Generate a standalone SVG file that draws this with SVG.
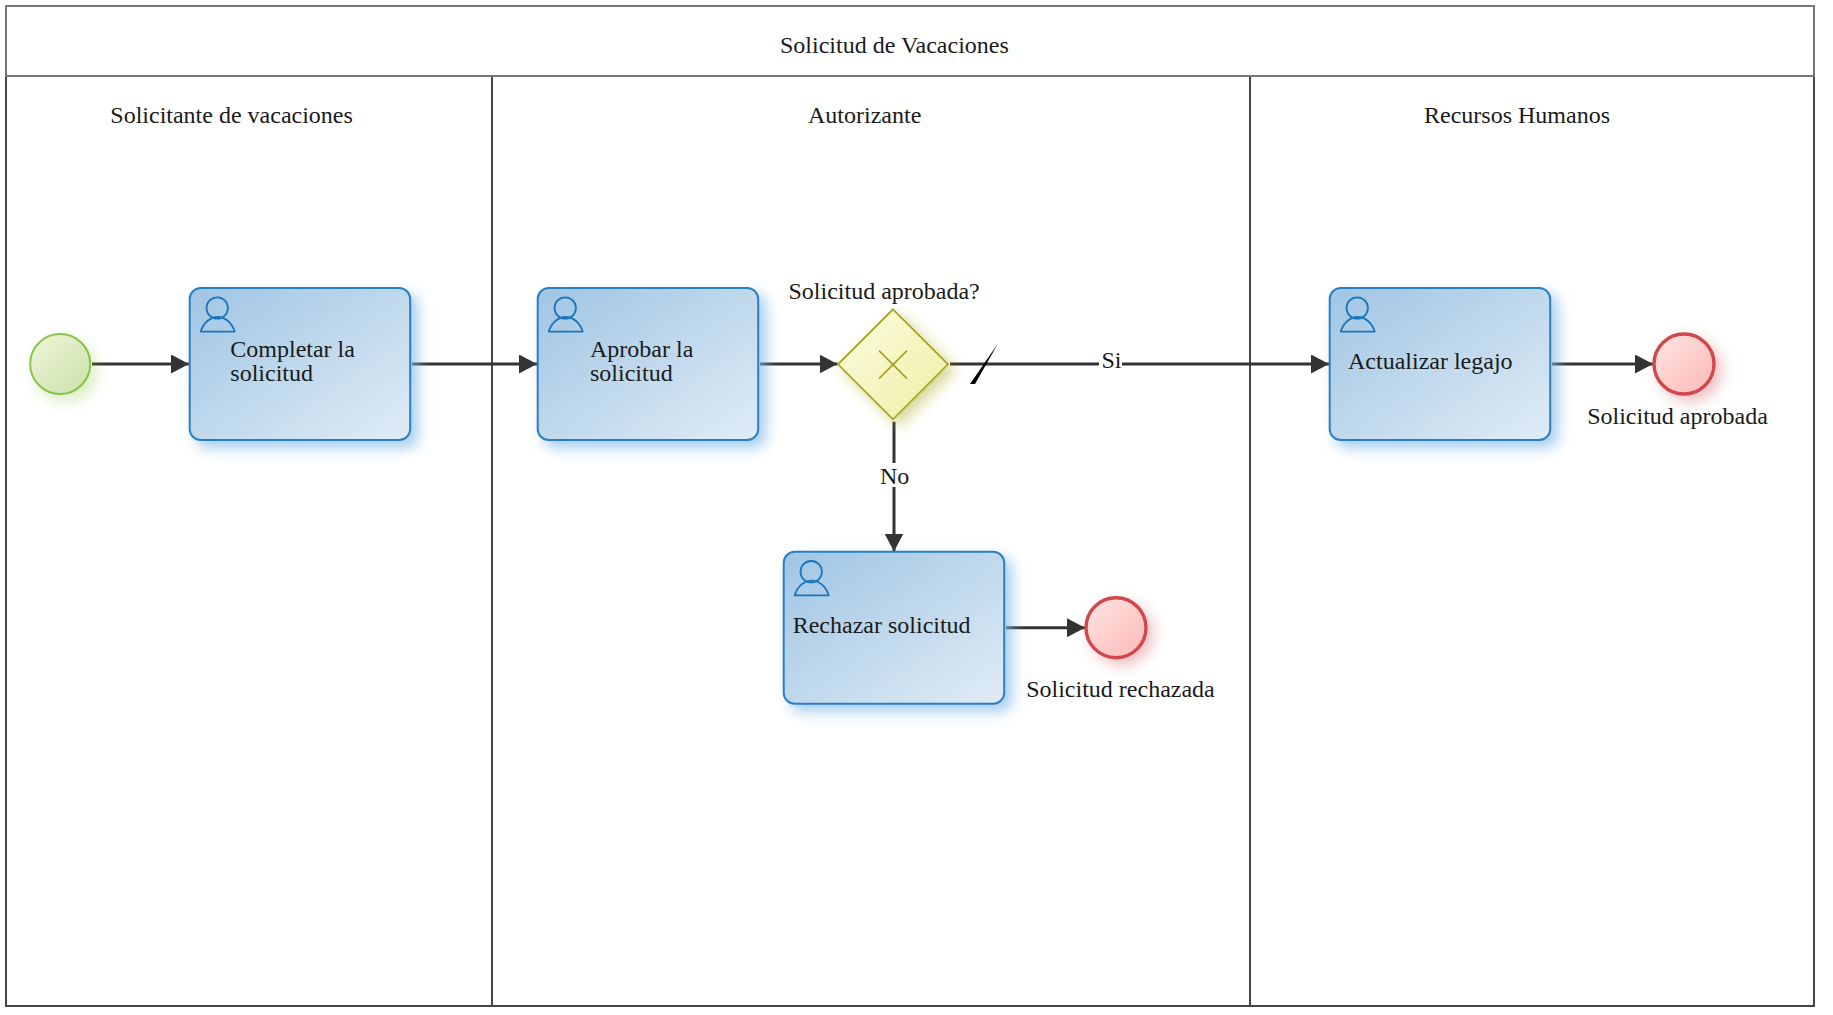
<svg xmlns="http://www.w3.org/2000/svg" width="1833" height="1015" viewBox="0 0 1833 1015">
<style>
text{font-family:"Liberation Serif","Times New Roman",serif;font-size:24px;fill:#1a1a1a}
.frame{fill:none;stroke:#444;stroke-width:2}
.head{fill:none;stroke:#777;stroke-width:2}
.task{fill:url(#gt);stroke:#2a7fc4;stroke-width:2;filter:url(#st)}
.icon{fill:none;stroke:#1a75bc;stroke-width:1.800;stroke-linejoin:round}
.edge{fill:none;stroke:#333;stroke-width:3}
.end{fill:url(#ge);stroke:#d0474d;stroke-width:3.400;filter:url(#se)}
</style>
<defs>
<linearGradient id="gt" x1="0" y1="0" x2="1" y2="1"><stop offset="0" stop-color="#9fc5e3"/><stop offset="1" stop-color="#e0ecf6"/></linearGradient>
<linearGradient id="ge" x1="0" y1="0" x2="1" y2="1"><stop offset="0" stop-color="#fde6e2"/><stop offset="1" stop-color="#fdb8b8"/></linearGradient>
<linearGradient id="gs" x1="0" y1="0" x2="1" y2="1"><stop offset="0" stop-color="#f0f6da"/><stop offset="1" stop-color="#c9e0a8"/></linearGradient>
<linearGradient id="gg" x1="0" y1="0" x2="1" y2="1"><stop offset="0" stop-color="#fcfce0"/><stop offset="1" stop-color="#eeeea5"/></linearGradient>
<filter id="st" x="-20%" y="-20%" width="150%" height="150%"><feDropShadow dx="7" dy="7" stdDeviation="7" flood-color="#7fb8e6" flood-opacity=".7"/></filter>
<filter id="se" x="-40%" y="-40%" width="200%" height="200%"><feDropShadow dx="6" dy="6" stdDeviation="7" flood-color="#d0474d" flood-opacity=".35"/></filter>
<filter id="ss" x="-40%" y="-40%" width="200%" height="200%"><feDropShadow dx="6" dy="7" stdDeviation="7" flood-color="#8cc63f" flood-opacity=".3"/></filter>
<filter id="sg" x="-40%" y="-40%" width="200%" height="200%"><feDropShadow dx="6" dy="6" stdDeviation="7" flood-color="#a8a41f" flood-opacity=".45"/></filter>
<marker id="arrow" viewBox="0 0 18 19" refX="18" refY="9.500" markerWidth="18" markerHeight="19" markerUnits="userSpaceOnUse" orient="auto"><path d="M0 0L18 9.500L0 19Z" fill="#333"/></marker>
<g id="usericon"><circle cx="27.500" cy="20" r="10.700" class="icon"/><path d="M11 43.600H45C42 34 35 29 28 29C21 29 14 34 11 43.600Z" class="icon"/></g>
</defs>
<g id="pool">
<path class="frame" d="M6 76V1006H1814V76"/>
<line class="frame" x1="492" y1="76" x2="492" y2="1006"/>
<line class="frame" x1="1250" y1="76" x2="1250" y2="1006"/>
<rect class="head" x="6" y="6" width="1808" height="70"/>
<text x="780" y="53">Solicitud de Vacaciones</text>
<text x="110.300" y="122.500">Solicitante de vacaciones</text>
<text x="808" y="122.500">Autorizante</text>
<text x="1424" y="122.500">Recursos Humanos</text>
</g>
<g id="connectors">
<path class="edge" d="M92 364H189" marker-end="url(#arrow)"/>
<path class="edge" d="M412 364H537" marker-end="url(#arrow)"/>
<path class="edge" d="M760 364H837.500" marker-end="url(#arrow)"/>
<path class="edge" d="M950 364H1329" marker-end="url(#arrow)"/>
<path d="M970 384L975 384L998 343.500Z" fill="#000"/>
<path class="edge" d="M894 421.700V551.500" marker-end="url(#arrow)"/>
<path class="edge" d="M1006 627.700H1085" marker-end="url(#arrow)"/>
<path class="edge" d="M1552 364H1653" marker-end="url(#arrow)"/>
<rect x="1099" y="352" width="23" height="24" fill="#fff"/>
<text x="1101.500" y="368">Si</text>
<rect x="880" y="463" width="28" height="24" fill="#fff"/>
<text x="880" y="484">No</text>
</g>
<g id="start"><circle cx="60.200" cy="364" r="30" fill="url(#gs)" stroke="#8bc34a" stroke-width="2" filter="url(#ss)"/></g>
<g id="task-completar"><rect class="task" x="189.700" y="288" width="220.500" height="152" rx="11"/><use href="#usericon" x="189.700" y="288"/><text x="230.300" y="356.500">Completar la</text><text x="230.300" y="380.500">solicitud</text></g>
<g id="task-aprobar"><rect class="task" x="537.700" y="288" width="220.500" height="152" rx="11"/><use href="#usericon" x="537.700" y="288"/><text x="590" y="356.500">Aprobar la</text><text x="590" y="380.500">solicitud</text></g>
<g id="gateway"><path d="M893 309.300L948 364.300L893 419.300L838 364.300Z" fill="url(#gg)" stroke="#a8a41f" stroke-width="1.800" filter="url(#sg)"/><path d="M879 350.700L907 378.700M907 350.700L879 378.700" stroke="#a8a41f" stroke-width="1.800" fill="none"/><text x="788.500" y="299">Solicitud aprobada?</text></g>
<g id="task-rechazar"><rect class="task" x="783.700" y="551.700" width="220.500" height="152" rx="11"/><use href="#usericon" x="783.700" y="551.700"/><text x="792.700" y="633">Rechazar solicitud</text></g>
<g id="end-rechazada"><circle class="end" cx="1116" cy="627.700" r="30"/><text x="1026.200" y="696.700">Solicitud rechazada</text></g>
<g id="task-actualizar"><rect class="task" x="1329.700" y="288" width="220.500" height="152" rx="11"/><use href="#usericon" x="1329.700" y="288"/><text x="1348" y="368.700">Actualizar legajo</text></g>
<g id="end-aprobada"><circle class="end" cx="1684" cy="364" r="30"/><text x="1587.200" y="424">Solicitud aprobada</text></g>
</svg>
